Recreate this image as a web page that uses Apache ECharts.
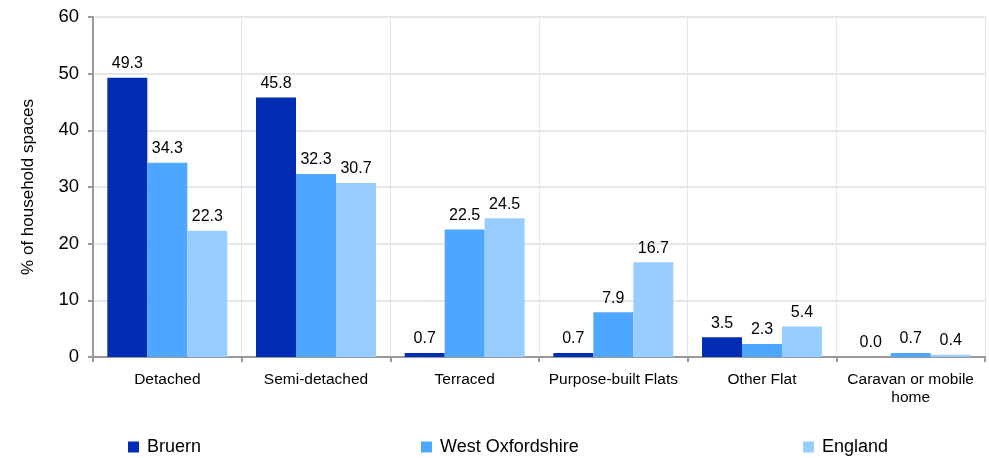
<!DOCTYPE html>
<html><head><meta charset="utf-8">
<script src="https://cdn.jsdelivr.net/npm/echarts@6/dist/echarts.min.js"></script>
<style>html,body{margin:0;padding:0;background:#fff}#c{width:989px;height:458px}</style>
</head><body><div id="c"></div>
<script>
const categories = ["Detached","Semi-detached","Terraced","Purpose-built Flats","Other Flat","Caravan or mobile\nhome"];
const bruern = [49.3,45.8,0.7,0.7,3.5,0.0];
const westOxfordshire = [34.3,32.3,22.5,7.9,2.3,0.7];
const england = [22.3,30.7,24.5,16.7,5.4,0.4];
const seriesNames = ["Bruern","West Oxfordshire","England"];
const colors = ["#002db3","#4da6ff","#99ccff"];
const font = "Liberation Sans, Arial, sans-serif";
const chart = echarts.init(document.getElementById('c'));
const mk = (name, data, color) => ({
  name, type:'bar', data, barGap:'0%', barCategoryGap:'19.3%',
  itemStyle:{color},
  label:{show:true, position:'top', distance:6, formatter:p=>p.value.toFixed(1), color:'#000', fontSize:16, fontFamily:font}
});
const leg = (name, left) => ({
  data:[name], left, top:433, icon:'rect', itemWidth:11, itemHeight:11, itemGap:0,
  textStyle:{fontSize:18, color:'#000', fontFamily:font, padding:[0,0,0,3]}
});
chart.setOption({
  animation:false,
  color: colors,
  legend:[leg(seriesNames[0],123), leg(seriesNames[1],416), leg(seriesNames[2],798)],
  grid:{left:93, right:4, top:17, bottom:101, containLabel:false},
  xAxis:{type:'category', data:categories,
    axisLine:{lineStyle:{color:'#999', width:2}},
    axisTick:{show:true, length:5, lineStyle:{color:'#999', width:2}},
    axisLabel:{color:'#000', fontSize:15.5, fontFamily:font, margin:14, lineHeight:18, interval:0},
    splitLine:{show:true, lineStyle:{color:'#e6e6e6', width:1}}
  },
  yAxis:{type:'value', min:0, max:60, interval:10,
    name:'% of household spaces', nameLocation:'middle', nameGap:56,
    nameTextStyle:{fontSize:17, color:'#000', fontFamily:font},
    axisLine:{show:true, lineStyle:{color:'#999', width:2}},
    axisTick:{show:true, length:5, lineStyle:{color:'#999', width:2}},
    axisLabel:{color:'#000', fontSize:18.5, fontFamily:font, margin:14},
    splitLine:{show:true, lineStyle:{color:'#e6e6e6', width:2}}
  },
  series:[mk(seriesNames[0], bruern, colors[0]), mk(seriesNames[1], westOxfordshire, colors[1]), mk(seriesNames[2], england, colors[2])]
});
</script></body></html>
